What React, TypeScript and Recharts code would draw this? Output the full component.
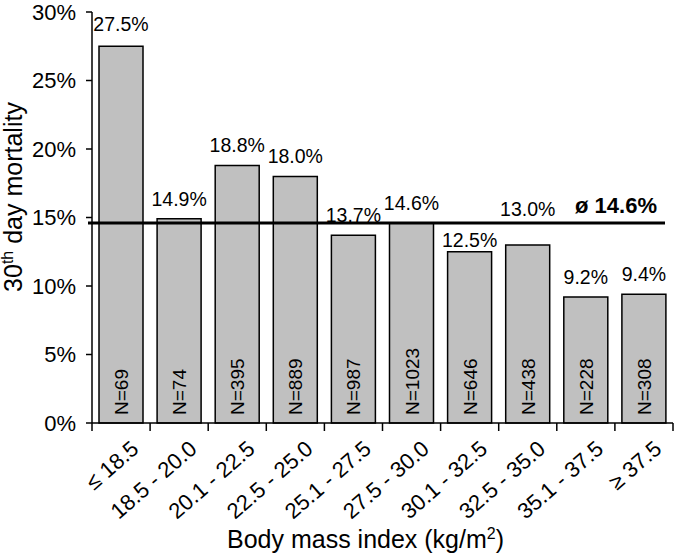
import { BarChart, Bar, XAxis, YAxis, ReferenceLine, LabelList, Label } from 'recharts';

const categories = ['≤ 18.5', '18.5 - 20.0', '20.1 - 22.5', '22.5 - 25.0', '25.1 - 27.5', '27.5 - 30.0', '30.1 - 32.5', '32.5 - 35.0', '35.1 - 37.5', '≥ 37.5'];
const mortality = [27.5, 14.9, 18.8, 18.0, 13.7, 14.6, 12.5, 13.0, 9.2, 9.4];
const patients = [69, 74, 395, 889, 987, 1023, 646, 438, 228, 308];
const yTicks = [0, 5, 10, 15, 20, 25, 30];
const average = 14.6;

const FONT = '"Liberation Sans", Arial, sans-serif';
const W = 675;
const H = 553;
const Y_AXIS_W = 92;
const RIGHT = 2;
const BAND = (W - Y_AXIS_W - RIGHT) / categories.length;

// small nudges so a few value labels sit like in the original
const labelNudge: Record<number, number> = { 0: -2, 6: 8, 7: -16 };

const data = categories.map((name, i) => ({
  name,
  mortality: mortality[i],
  n: patients[i],
}));

const XTick = (props: any) => {
  const { x, y, payload, index } = props;
  const tx = x + 19;
  const ty = y + 28;
  return (
    <g>
      <line x1={x - BAND / 2} y1={y} x2={x - BAND / 2} y2={y + 8} stroke="#000" strokeWidth={1.5} />
      {index === categories.length - 1 && (
        <line x1={x + BAND / 2} y1={y} x2={x + BAND / 2} y2={y + 8} stroke="#000" strokeWidth={1.5} />
      )}
      <text x={tx} y={ty} textAnchor="end" fontSize={22} fontFamily={FONT} fill="#000" transform={`rotate(-41, ${tx}, ${ty})`}>
        {payload.value}
      </text>
    </g>
  );
};

const ValueLabel = (props: any) => {
  const { x, y, width, value, index } = props;
  return (
    <text x={x + width / 2} y={y - 13 + (labelNudge[index] || 0)} textAnchor="middle" fontSize={19.5} fontFamily={FONT} fill="#000">
      {Number(value).toFixed(1)}%
    </text>
  );
};

const NLabel = (props: any) => {
  const { x, y, width, height, value } = props;
  const tx = x + width / 2 + 7;
  const ty = y + height - 8;
  return (
    <text x={tx} y={ty} textAnchor="start" fontSize={19} fontFamily={FONT} fill="#000" transform={`rotate(-90, ${tx}, ${ty})`}>
      N={value}
    </text>
  );
};

const AvgLine = (props: any) => {
  const { x1, y1, x2, y2 } = props;
  return <line x1={x1 - 4} y1={y1} x2={x2 - 8} y2={y2} stroke="#000" strokeWidth={3} />;
};

const AvgLabel = (props: any) => {
  const vb = props.viewBox || {};
  return (
    <text x={vb.x + vb.width - 16} y={vb.y - 10} textAnchor="end" fontSize={22} fontWeight="bold" fontFamily={FONT} fill="#000">
      ø {average.toFixed(1)}%
    </text>
  );
};

const XTitle = (props: any) => {
  const vb = props.viewBox || {};
  return (
    <text x={vb.x + vb.width / 2 - 17} y={vb.y + 125} textAnchor="middle" fontSize={25} fontFamily={FONT} fill="#000">
      Body mass index (kg/m<tspan dy={-9} fontSize={16}>2</tspan><tspan dy={9}>)</tspan>
    </text>
  );
};

const YTitle = () => {
  const tx = 22;
  const ty = 197;
  return (
    <text x={tx} y={ty} textAnchor="middle" fontSize={25} fontFamily={FONT} fill="#000" transform={`rotate(-90, ${tx}, ${ty})`}>
      30<tspan dy={-9} fontSize={16}>th</tspan><tspan dy={9}> day mortality</tspan>
    </text>
  );
};

export default function App() {
  return (
    <div style={{ position: 'absolute', left: 0, top: 0, width: W, height: H, background: '#fff' }}>
      <BarChart width={W} height={H} data={data} margin={{ top: 12, right: RIGHT, left: 0, bottom: 0 }}>
        <XAxis
          dataKey="name"
          interval={0}
          height={130}
          tick={XTick}
          tickLine={false}
          tickSize={0}
          tickMargin={0}
          axisLine={{ stroke: '#000', strokeWidth: 1.5 }}
        >
          <Label content={XTitle} />
        </XAxis>
        <YAxis
          width={Y_AXIS_W}
          domain={[0, 30]}
          ticks={yTicks}
          interval={0}
          tickFormatter={(v) => `${v}%`}
          tick={{ fill: '#000', fontSize: 22, fontFamily: FONT }}
          tickSize={6}
          tickMargin={10}
          tickLine={{ stroke: '#000', strokeWidth: 1.5 }}
          axisLine={{ stroke: '#000', strokeWidth: 1.5 }}
        >
          <Label content={YTitle} />
        </YAxis>
        <Bar dataKey="mortality" fill="#c0c0c0" stroke="#000" strokeWidth={1.5} barSize={44} isAnimationActive={false}>
          <LabelList dataKey="mortality" content={ValueLabel} />
          <LabelList dataKey="n" content={NLabel} />
        </Bar>
        <ReferenceLine y={average} shape={AvgLine} label={AvgLabel} />
      </BarChart>
    </div>
  );
}
